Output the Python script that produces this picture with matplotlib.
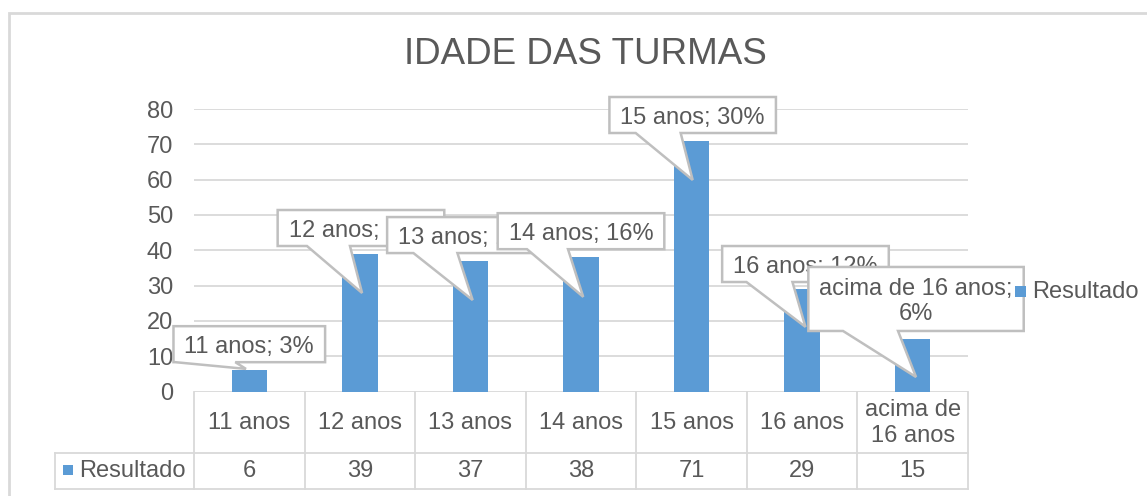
import matplotlib
matplotlib.use("Agg")
import matplotlib.pyplot as plt
from matplotlib.patches import Polygon, Rectangle
from matplotlib.lines import Line2D
from matplotlib.transforms import offset_copy

plt.rcParams['font.family'] = ['Liberation Sans', 'DejaVu Sans']

# ---------------- data ----------------
categories = ["11 anos", "12 anos", "13 anos", "14 anos", "15 anos", "16 anos", "acima de 16 anos"]
table_labels = ["11 anos", "12 anos", "13 anos", "14 anos", "15 anos", "16 anos", "acima de\n16 anos"]
values = [6, 39, 37, 38, 71, 29, 15]
series_name = "Resultado"
title = "IDADE DAS TURMAS"
yticks = [0, 10, 20, 30, 40, 50, 60, 70, 80]

# ---------------- layout (callouts) ----------------
box_cy = [13.4, 46.3, 44.3, 45.4, 78.3, 36.1, 26.2]      # box centre (data y)
box_dx = [0.0, 0.01, 0.0, 0.0, 0.01, 0.03, 0.03]         # box centre offset (categories)
box_h = [36, 36, 36, 36, 36, 36, 64]                     # box height (px)
tip_y = [6.4, 27.9, 25.9, 26.8, 59.9, 18.3, 4.1]         # pointer tip (data y)
tip_dx = [-0.03, 0.02, 0.02, 0.02, 0.01, 0.03, 0.03]
base_off = [(-74, -14), (-54, -11), (-57, -13), (-54, -13), (-57, -12), (-59, -13), (-73, -18)]

W, H = 1147, 496
TXT = '#595959'
GRID = '#d9d9d9'
BAR = '#5b9bd5'
FS = 17

fig = plt.figure(figsize=(W / 100, H / 100), dpi=100)
fig.patch.set_facecolor('white')

def fp(x, y):
    """reference pixel (top-left origin) -> figure fraction"""
    return x / W, 1 - y / H

ax_l, ax_r, ax_t, ax_b = 194, 968, 109, 391.5
ax = fig.add_axes([ax_l / W, 1 - ax_b / H, (ax_r - ax_l) / W, (ax_b - ax_t) / H])
ax.set_xlim(-0.5, len(values) - 0.5)
ax.set_ylim(0, 80)
ax.set_yticks(yticks)
ax.set_yticklabels([str(t) for t in yticks], fontsize=FS, color=TXT)
ax.set_xticks([])
ax.tick_params(axis='y', length=0, pad=15)
for s in ax.spines.values():
    s.set_visible(False)
ax.yaxis.grid(True, color=GRID, lw=1.3, zorder=0)
ax.set_axisbelow(True)

x = list(range(len(values)))
ax.bar(x, values, width=0.32, color=BAR, zorder=2)

# chart border
fig.add_artist(Rectangle(fp(8.5, 600), 1200 / W, (600 - 12.5) / H, transform=fig.transFigure,
                         fill=False, ec=GRID, lw=2))

# title
fig.text(*fp(585, 55), title, ha='center', va='center', fontsize=26.5, color=TXT)

# ---------------- data table ----------------
def fline(x0, y0, x1, y1):
    a = fp(x0, y0); b = fp(x1, y1)
    fig.add_artist(Line2D([a[0], b[0]], [a[1], b[1]], transform=fig.transFigure, color=GRID, lw=1.3))

inv = fig.transFigure.inverted()
bounds = []
for k in range(len(values) + 1):
    disp = ax.transData.transform((k - 0.5, 0))
    bounds.append(disp[0])
row1_bot, row2_bot = 453, 489
for bx in bounds:
    fline(bx, ax_b, bx, row2_bot)
fline(55, row1_bot, bounds[-1], row1_bot)
fline(55, row2_bot, bounds[-1], row2_bot)
fline(55, row1_bot, 55, row2_bot)

for i, (lab, v) in enumerate(zip(table_labels, values)):
    cx = (bounds[i] + bounds[i + 1]) / 2
    fig.text(*fp(cx, 423), lab, ha='center', va='center', fontsize=FS, color=TXT,
             linespacing=1.25)
    fig.text(*fp(cx, 471), str(v), ha='center', va='center', fontsize=FS, color=TXT)

sq = fp(63, 475)
fig.add_artist(Rectangle(sq, 10 / W, 10 / H, transform=fig.transFigure, color=BAR, lw=0))
fig.text(*fp(79, 471), series_name, ha='left', va='center', fontsize=FS, color=TXT)

# legend
sq = fp(1015, 297)
fig.add_artist(Rectangle(sq, 11 / W, 11 / H, transform=fig.transFigure, color=BAR, lw=0))
fig.text(*fp(1032, 291.5), series_name, ha='left', va='center', fontsize=FS, color=TXT)

# ---------------- callouts ----------------
total = sum(values)
renderer = fig.canvas.get_renderer()
txt_tr = offset_copy(ax.transData, fig=fig, x=0, y=-2.5, units='dots')
for i, (cat, v) in enumerate(zip(categories, values)):
    pct = round(v / total * 100)
    if i == len(values) - 1:
        label = f"{cat};\n{pct}%"
    else:
        label = f"{cat}; {pct}%"
    z = 10 + 2 * i
    t = ax.text(i + box_dx[i], box_cy[i], label, ha='center', va='center', fontsize=FS,
                color=TXT, zorder=z + 1, clip_on=False, multialignment='center',
                linespacing=1.15, transform=txt_tr)
    bb = t.get_window_extent(renderer)
    cxd, cyd = ax.transData.transform((i + box_dx[i], box_cy[i]))
    w = bb.width + 22
    h = box_h[i]
    L, R = cxd - w / 2, cxd + w / 2
    B, T = cyd - h / 2, cyd + h / 2
    tx, ty = ax.transData.transform((i + tip_dx[i], tip_y[i]))
    b1, b2 = base_off[i]
    pts_disp = [(L, T), (R, T), (R, B), (cxd + b2, B), (tx, ty), (cxd + b1, B), (L, B)]
    pts = [inv.transform(p) for p in pts_disp]
    poly = Polygon(pts, closed=True, transform=fig.transFigure, fc='white', ec='#bfbfbf',
                   lw=1.8, zorder=z, clip_on=False, joinstyle='miter')
    ax.add_patch(poly)

fig.savefig('out.png', dpi=100, facecolor='white')
